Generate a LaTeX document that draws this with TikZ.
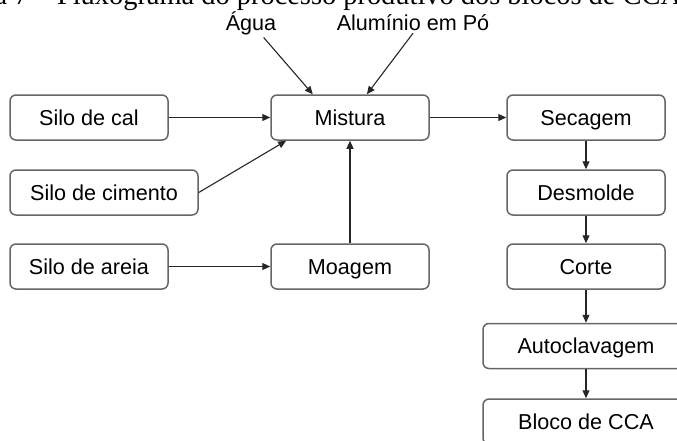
\documentclass[tikz,border=0pt]{standalone}
\usepackage{fontspec}
\setmainfont{Liberation Sans}
\newfontfamily\capfont{Liberation Serif}
\usetikzlibrary{arrows.meta}
\begin{document}
\begin{tikzpicture}[x=1pt, y=-1pt,
  box/.style={draw=black!60, line width=1.5pt, rounded corners=6pt,
    minimum width=158pt, minimum height=45pt, inner sep=0pt,
    text height=16pt, text depth=1pt,
    font=\fontsize{21.6}{26}\selectfont},
  lbl/.style={inner sep=0pt, outer sep=3pt, font=\fontsize{21.6}{26}\selectfont},
  flow/.style={draw=black!85, line width=1.1pt, -{Triangle[length=8pt, width=7pt]}}]
\path[use as bounding box, clip] (0,0) rectangle (677,440);

% caption, cut off by the frame
\node[anchor=base west, inner sep=0pt, font=\capfont\fontsize{28.4}{34}\selectfont] (caption) at (-67,4)
  {Figura 7 – Fluxograma do processo produtivo dos blocos de CCA};

% inputs
\node[lbl, anchor=base] (agua) at (251,30) {Água};
\node[lbl, anchor=base] (aluminio) at (413,30) {Alumínio em Pó};

% left column
\node[box] (cal) at (89,117.5) {Silo de cal};
\node[box, minimum width=188pt] (cimento) at (104,192.5) {Silo de cimento};
\node[box] (areia) at (89,266.5) {Silo de areia};

% middle column
\node[box] (mistura) at (350,117.5) {Mistura};
\node[box] (moagem) at (350,266.5) {Moagem};

% right column
\node[box] (secagem) at (586,117.5) {Secagem};
\node[box] (desmolde) at (586,192.5) {Desmolde};
\node[box] (corte) at (586,266.5) {Corte};
\node[box, minimum width=206pt] (autoclavagem) at (586,346) {Autoclavagem};
\node[box, minimum width=206pt] (bloco) at (586,421.5) {Bloco de CCA};

\draw[flow] (agua) -- (mistura.148);
\draw[flow] (aluminio.south) -- (mistura.54);
\draw[flow] (cal) -- (mistura);
\draw[flow] (cimento.east) -- (mistura.200);
\draw[flow] (areia) -- (moagem);
\draw[flow] (moagem) -- (mistura);
\draw[flow] (mistura) -- (secagem);

\draw[flow] (secagem) -- (desmolde);
\draw[flow] (desmolde) -- (corte);
\draw[flow] (corte) -- (autoclavagem);
\draw[flow] (autoclavagem) -- (bloco);

\end{tikzpicture}
\end{document}
